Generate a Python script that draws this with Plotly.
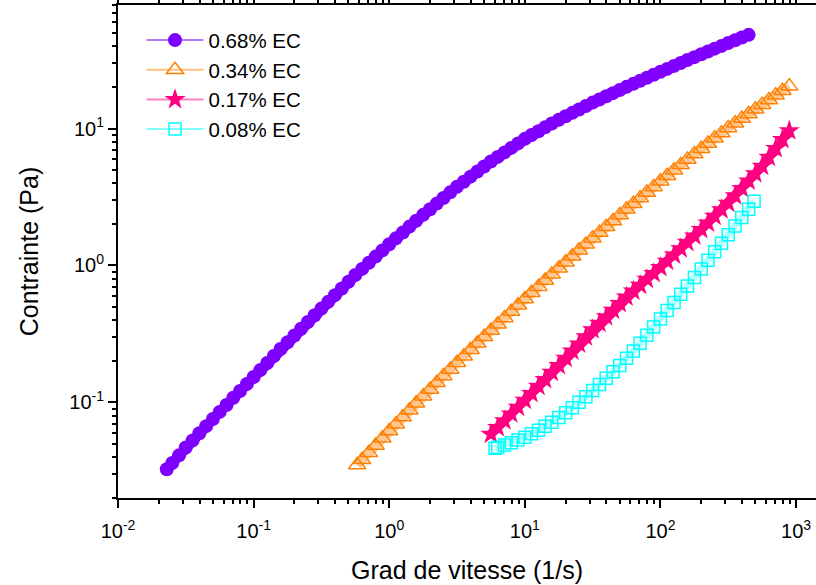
import plotly.graph_objects as go

# ---- data (shear rate in 1/s, stress in Pa) ----
labels = ["0.68% EC", "0.34% EC", "0.17% EC", "0.08% EC"]

x_068 = [0.0229, 0.0251, 0.0282, 0.0316, 0.0355, 0.0398, 0.0447, 0.0501, 0.0562, 0.0631,
         0.0708, 0.0794, 0.0891, 0.1, 0.112, 0.126, 0.141, 0.158, 0.178, 0.200,
         0.224, 0.251, 0.282, 0.316, 0.355, 0.398, 0.447, 0.501, 0.562, 0.631,
         0.708, 0.794, 0.891, 1.0, 1.12, 1.26, 1.41, 1.58, 1.78, 2.00,
         2.24, 2.51, 2.82, 3.16, 3.55, 3.98, 4.47, 5.01, 5.62, 6.31,
         7.08, 7.94, 8.91, 10.0, 11.2, 12.6, 14.1, 15.8, 17.8, 20.0,
         22.4, 25.1, 28.2, 31.6, 35.5, 39.8, 44.7, 50.1, 56.2, 63.1,
         70.8, 79.4, 89.1, 100, 112, 126, 141, 158, 178, 200,
         224, 251, 282, 316, 355, 398, 447]
y_068 = [0.0324, 0.0360, 0.0410, 0.0468, 0.0527, 0.0594, 0.0670, 0.0755, 0.0851, 0.0957,
         0.108, 0.121, 0.136, 0.153, 0.172, 0.194, 0.218, 0.245, 0.275, 0.308,
         0.345, 0.386, 0.433, 0.484, 0.542, 0.607, 0.679, 0.760, 0.851, 0.944,
         1.047, 1.161, 1.288, 1.429, 1.578, 1.742, 1.923, 2.123, 2.344, 2.576,
         2.831, 3.112, 3.420, 3.758, 4.093, 4.457, 4.853, 5.284, 5.754, 6.209,
         6.699, 7.228, 7.798, 8.414, 8.974, 9.572, 10.21, 10.89, 11.61, 12.30,
         13.03, 13.80, 14.62, 15.49, 16.33, 17.22, 18.16, 19.14, 20.18, 21.23,
         22.34, 23.50, 24.72, 26.00, 27.29, 28.71, 30.13, 31.70, 33.27, 34.91,
         36.56, 38.37, 40.18, 42.17, 44.16, 46.24, 48.42]

x_034 = [0.58, 0.631, 0.708, 0.794, 0.891, 1.0, 1.12, 1.26, 1.41, 1.58,
         1.78, 2.00, 2.24, 2.51, 2.82, 3.16, 3.55, 3.98, 4.47, 5.01,
         5.62, 6.31, 7.08, 7.94, 8.91, 10.0, 11.2, 12.6, 14.1, 15.8,
         17.8, 20.0, 22.4, 25.1, 28.2, 31.6, 35.5, 39.8, 44.7, 50.1,
         56.2, 63.1, 70.8, 79.4, 89.1, 100, 112, 126, 141, 158,
         178, 200, 224, 251, 282, 316, 355, 398, 447, 501,
         562, 631, 708, 794, 891]
y_034 = [0.0348, 0.0380, 0.0429, 0.0484, 0.0546, 0.0617, 0.0693, 0.0780, 0.0877, 0.0986,
         0.111, 0.124, 0.139, 0.156, 0.174, 0.195, 0.217, 0.242, 0.270, 0.301,
         0.335, 0.372, 0.414, 0.460, 0.512, 0.569, 0.631, 0.700, 0.776, 0.861,
         0.955, 1.057, 1.167, 1.291, 1.426, 1.578, 1.738, 1.919, 2.113, 2.333,
         2.570, 2.825, 3.105, 3.412, 3.750, 4.121, 4.519, 4.955, 5.433, 5.957,
         6.531, 7.129, 7.780, 8.492, 9.268, 10.12, 10.94, 11.83, 12.79, 13.84,
         14.96, 16.18, 17.50, 18.88, 20.42]

x_017 = [5.62, 6.31, 7.08, 7.94, 8.91, 10.0, 11.2, 12.6, 14.1, 15.8,
         17.8, 20.0, 22.4, 25.1, 28.2, 31.6, 35.5, 39.8, 44.7, 50.1,
         56.2, 63.1, 70.8, 79.4, 89.1, 100, 112, 126, 141, 158,
         178, 200, 224, 251, 282, 316, 355, 398, 447, 501,
         562, 631, 708, 794, 891]
y_017 = [0.0585, 0.0656, 0.0735, 0.0824, 0.0923, 0.1035, 0.116, 0.131, 0.147, 0.166,
         0.186, 0.210, 0.237, 0.267, 0.301, 0.339, 0.378, 0.423, 0.472, 0.527,
         0.589, 0.650, 0.718, 0.793, 0.875, 0.966, 1.074, 1.194, 1.327, 1.476,
         1.641, 1.832, 2.046, 2.286, 2.553, 2.851, 3.228, 3.656, 4.140, 4.688,
         5.309, 6.166, 7.161, 8.318, 9.661]

x_008 = [6.03, 6.31, 7.08, 7.94, 8.91, 10.0, 11.2, 12.6, 14.1, 15.8,
         17.8, 20.0, 22.4, 25.1, 28.2, 31.6, 35.5, 39.8, 44.7, 50.1,
         56.2, 63.1, 70.8, 79.4, 89.1, 100, 112, 126, 141, 158,
         178, 200, 224, 251, 282, 316, 355, 398, 447, 490]
y_008 = [0.0462, 0.0470, 0.0488, 0.0507, 0.0531, 0.0556, 0.0589, 0.0624, 0.0668, 0.0716,
         0.0774, 0.0838, 0.0914, 0.1, 0.110, 0.122, 0.135, 0.150, 0.167, 0.186,
         0.210, 0.237, 0.270, 0.309, 0.355, 0.407, 0.468, 0.537, 0.617, 0.708,
         0.817, 0.944, 1.091, 1.259, 1.455, 1.679, 1.941, 2.239, 2.570, 2.951]

x_tickvals = [0.01, 0.1, 1, 10, 100, 1000]
x_ticktext = ["10<sup>-2</sup>", "10<sup>-1</sup>", "10<sup>0</sup>",
              "10<sup>1</sup>", "10<sup>2</sup>", "10<sup>3</sup>"]
y_tickvals = [0.1, 1, 10]
y_ticktext = ["10<sup>-1</sup>", "10<sup>0</sup>", "10<sup>1</sup>"]

x_title = "Grad de vitesse (1/s)"
y_title = "Contrainte (Pa)"

# ---- styles ----
FONT = "Liberation Sans, Arial, sans-serif"
# (x, y, name, marker, legend line colour, band colour, band width)
series = [
    (x_068, y_068, labels[0], dict(symbol="circle", size=14, color="#8000FF", line=dict(width=0)),
     "#B27FFF", "#8000FF", 10),
    (x_034, y_034, labels[1], dict(symbol="triangle-up-open", size=15, color="#FF8000", line=dict(width=1.5)),
     "#FFBF80", "#FFC690", 9),
    (x_017, y_017, labels[2], dict(symbol="star", size=16, color="#FF0080", line=dict(width=0)),
     "#FF7FBF", "#FF0080", 9),
    (x_008, y_008, labels[3], dict(symbol="square-open", size=12, color="#00FFFF", line=dict(width=1.5)),
     "#80FFFF", "#B0FFFF", 7),
]

fig = go.Figure()
# data (dense measurement bands)
for xs, ys, name, mk, lc, bc, bw in series:
    fig.add_trace(go.Scatter(x=xs, y=ys, name=name, mode="lines+markers", showlegend=False,
                             marker=mk, line=dict(color=bc, width=bw)))
# legend entries (thin connecting line, as in the original legend)
for xs, ys, name, mk, lc, bc, bw in series:
    fig.add_trace(go.Scatter(x=[None], y=[None], name=name, mode="lines+markers",
                             marker=mk, line=dict(color=lc, width=2)))

axis_common = dict(
    type="log", showline=True, linecolor="black", linewidth=2,
    ticks="outside", ticklen=8, tickwidth=1.5, tickcolor="black",
    showgrid=False, zeroline=False, automargin=False,
    tickfont=dict(family=FONT, size=20, color="black"),
    minor=dict(ticks="outside", ticklen=4, tickwidth=1.5, tickcolor="black", dtick="D1", showgrid=False),
)

fig.update_xaxes(**axis_common, range=[-2, 3.147], mirror="allticks",
                 tickmode="array", tickvals=x_tickvals, ticktext=x_ticktext,
                 ticklabelstandoff=6,
                 title=dict(text=x_title, font=dict(family=FONT, size=25, color="black"), standoff=20))
fig.update_yaxes(**axis_common, range=[-1.699, 1.903], mirror=False,
                 tickmode="array", tickvals=y_tickvals, ticktext=y_ticktext,
                 title=dict(text=y_title, font=dict(family=FONT, size=25, color="black"), standoff=24))

fig.update_layout(
    width=816, height=585,
    margin=dict(l=118, r=0, t=5, b=87),
    paper_bgcolor="white", plot_bgcolor="white",
    font=dict(family=FONT, color="black"),
    showlegend=True,
    legend=dict(x=0.0337, y=0.969, xanchor="left", yanchor="top",
                font=dict(family=FONT, size=20.5, color="black"),
                bgcolor="rgba(0,0,0,0)", borderwidth=0, itemwidth=57, tracegroupgap=0),
)

fig.write_html("out.html", post_script="document.body.style.margin='0';",
               config={"displayModeBar": False})
